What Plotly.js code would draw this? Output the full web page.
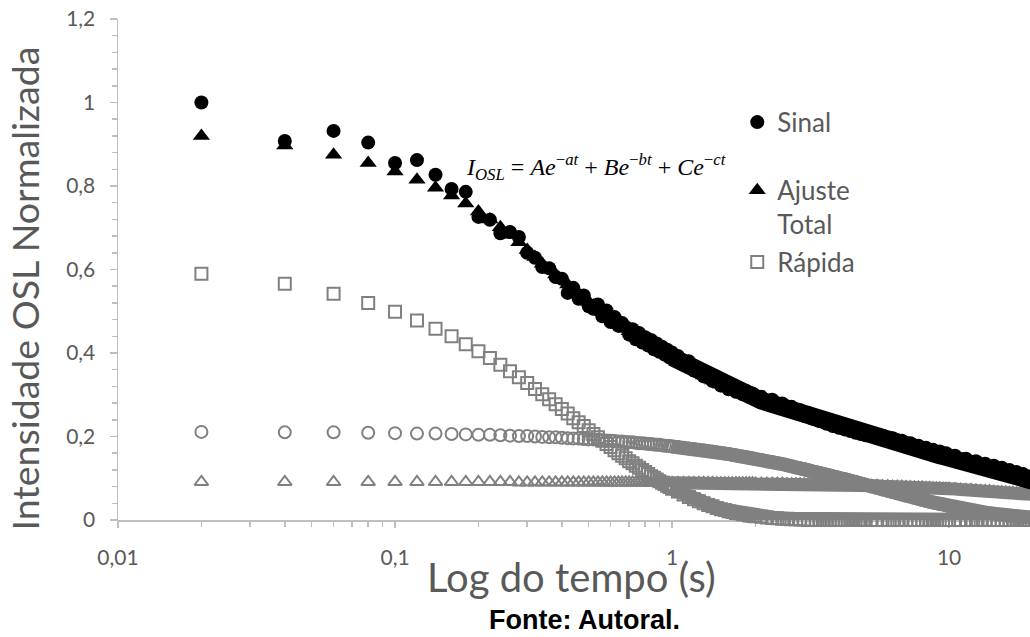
<!DOCTYPE html>
<html>
<head>
<meta charset="utf-8">
<script src="https://cdn.plot.ly/plotly-3.0.1.min.js"></script>
<style>html,body{margin:0;padding:0;background:#fff;}#chart{width:1030px;height:637px;}</style>
</head>
<body>
<div id="chart"></div>
<script>
// Tempo (s)
const tempo = [
0.02,0.04,0.06,0.08,0.10,0.12,0.14,0.16,0.18,0.20,0.22,0.24,0.26,0.28,0.30,0.32,0.34,0.36,0.38,0.40,
0.42,0.44,0.46,0.48,0.50,0.52,0.54,0.56,0.58,0.60,0.62,0.64,0.66,0.68,0.70,0.72,0.74,0.76,0.78,0.80,
0.82,0.84,0.86,0.88,0.90,0.92,0.94,0.96,0.98,1.00,
1.05,1.10,1.15,1.20,1.25,1.30,1.35,1.40,1.45,1.50,1.55,1.60,1.65,1.70,1.75,1.80,1.85,1.90,1.95,2.00,
2.1,2.2,2.3,2.4,2.5,2.6,2.7,2.8,2.9,3.0,3.1,3.2,3.3,3.4,3.5,3.6,3.7,3.8,3.9,4.0,
4.1,4.2,4.3,4.4,4.5,4.6,4.7,4.8,4.9,5.0,
5.25,5.5,5.75,6.0,6.25,6.5,6.75,7.0,7.25,7.5,7.75,8.0,8.25,8.5,8.75,9.0,9.25,9.5,9.75,10.0,
10.5,11,11.5,12,12.5,13,13.5,14,14.5,15,15.5,16,16.5,17,17.5,18,18.5,19,19.5,20
];
// Sinal OSL normalizado
const sinal = [
1.000,0.908,0.932,0.904,0.855,0.862,0.827,0.793,0.786,0.726,0.719,0.687,0.690,0.678,0.640,0.628,0.606,0.603,0.582,0.578,
0.544,0.556,0.530,0.538,0.512,0.506,0.516,0.488,0.502,0.474,0.486,0.465,0.472,0.462,0.444,0.457,0.433,0.448,0.425,0.438,
0.418,0.431,0.409,0.423,0.403,0.415,0.396,0.408,0.389,0.401,
0.393,0.372,0.380,0.358,0.362,0.344,0.352,0.333,0.340,0.322,0.330,0.313,0.322,0.307,0.315,0.301,0.309,0.295,0.303,0.290,
0.295,0.281,0.288,0.274,0.279,0.266,0.271,0.257,0.263,0.250,0.256,0.243,0.249,0.237,0.243,0.231,0.237,0.225,0.232,0.221,
0.227,0.217,0.223,0.213,0.219,0.209,0.215,0.206,0.212,0.203,
0.208,0.197,0.202,0.191,0.196,0.185,0.190,0.179,0.184,0.173,0.178,0.168,0.173,0.163,0.168,0.158,0.164,0.154,0.160,0.150,
0.154,0.142,0.147,0.136,0.141,0.130,0.135,0.124,0.130,0.119,0.125,0.114,0.120,0.109,0.115,0.104,0.110,0.099,0.104,0.095
];
// Ajuste total
const ajusteTotal = [
0.920,0.897,0.875,0.855,0.835,0.815,0.796,0.777,0.758,0.739,0.720,0.701,0.683,0.665,0.647,0.630,0.614,0.601,0.588,0.576,
0.564,0.553,0.542,0.532,0.523,0.514,0.506,0.498,0.490,0.483,0.476,0.470,0.464,0.458,0.452,0.446,0.441,0.436,0.431,0.427,
0.423,0.419,0.415,0.411,0.407,0.403,0.400,0.396,0.393,0.390,
0.383,0.375,0.368,0.360,0.352,0.346,0.340,0.334,0.329,0.324,0.319,0.315,0.311,0.308,0.305,0.302,0.299,0.296,0.293,0.290,
0.286,0.282,0.278,0.273,0.269,0.265,0.261,0.256,0.252,0.249,0.246,0.242,0.239,0.236,0.233,0.230,0.227,0.224,0.222,0.220,
0.218,0.216,0.214,0.212,0.210,0.208,0.206,0.205,0.203,0.202,
0.199,0.196,0.193,0.190,0.187,0.184,0.181,0.178,0.175,0.172,0.169,0.167,0.164,0.162,0.159,0.157,0.155,0.153,0.151,0.149,
0.145,0.141,0.138,0.135,0.132,0.129,0.126,0.123,0.121,0.118,0.116,0.113,0.111,0.108,0.106,0.103,0.101,0.098,0.096,0.094
];
// Componente rápida
const rapida = [
0.590,0.566,0.542,0.520,0.499,0.478,0.458,0.440,0.421,0.404,0.388,0.372,0.356,0.342,0.328,0.314,0.301,0.289,0.277,0.266,
0.255,0.244,0.234,0.225,0.215,0.206,0.198,0.190,0.182,0.175,0.167,0.160,0.154,0.148,0.141,0.136,0.130,0.125,0.120,0.115,
0.110,0.105,0.101,0.097,0.093,0.089,0.086,0.082,0.079,0.075,
0.068,0.061,0.055,0.050,0.045,0.040,0.036,0.033,0.029,0.026,0.024,0.021,0.019,0.017,0.016,0.014,0.013,0.011,0.010,0.009,
0.008,0.006,0.005,0.004,0.003,0.003,0.002,0.002,0.001,0.001,0,0,0,0,0,0,0,0,0,0,
0,0,0,0,0,0,0,0,0,0,
0,0,0,0,0,0,0,0,0,0,0,0,0,0,0,0,0,0,0,0,
0,0,0,0,0,0,0,0,0,0,0,0,0,0,0,0,0,0,0,0
];
// Componente média
const media = [
0.211,0.210,0.210,0.209,0.208,0.207,0.207,0.206,0.205,0.204,0.204,0.203,0.202,0.201,0.201,0.200,0.199,0.198,0.198,0.197,
0.196,0.195,0.195,0.194,0.193,0.193,0.192,0.191,0.190,0.190,0.189,0.188,0.188,0.187,0.186,0.186,0.185,0.184,0.184,0.183,
0.182,0.182,0.181,0.180,0.180,0.179,0.178,0.178,0.177,0.176,
0.175,0.173,0.171,0.170,0.168,0.167,0.165,0.164,0.162,0.161,0.159,0.158,0.156,0.155,0.153,0.152,0.151,0.149,0.148,0.146,
0.144,0.141,0.139,0.136,0.134,0.131,0.129,0.126,0.124,0.122,0.120,0.117,0.115,0.113,0.111,0.109,0.107,0.105,0.103,0.101,
0.099,0.098,0.096,0.094,0.092,0.091,0.089,0.087,0.086,0.084,
0.080,0.077,0.073,0.070,0.067,0.064,0.061,0.058,0.056,0.053,0.051,0.048,0.046,0.044,0.042,0.040,0.038,0.037,0.035,0.033,
0.030,0.028,0.025,0.023,0.021,0.019,0.017,0.016,0.015,0.013,0.012,0.011,0.010,0.009,0.008,0.008,0.007,0.006,0.006,0.005
];
// Componente lenta
const lenta = [
0.091,0.091,0.091,0.091,0.091,0.091,0.091,0.091,0.091,0.091,0.091,0.091,0.091,0.090,0.090,0.090,0.090,0.090,0.090,0.090,
0.090,0.090,0.090,0.090,0.090,0.090,0.090,0.090,0.090,0.090,0.090,0.090,0.090,0.090,0.090,0.090,0.090,0.090,0.090,0.090,
0.090,0.089,0.089,0.089,0.089,0.089,0.089,0.089,0.089,0.089,
0.089,0.089,0.089,0.089,0.089,0.089,0.089,0.089,0.088,0.088,0.088,0.088,0.088,0.088,0.088,0.088,0.088,0.088,0.088,0.087,
0.087,0.087,0.087,0.087,0.087,0.086,0.086,0.086,0.086,0.086,0.086,0.085,0.085,0.085,0.085,0.085,0.085,0.084,0.084,0.084,
0.084,0.084,0.084,0.083,0.083,0.083,0.083,0.083,0.083,0.082,
0.082,0.082,0.081,0.081,0.080,0.080,0.080,0.079,0.079,0.078,0.078,0.078,0.077,0.077,0.076,0.076,0.076,0.075,0.075,0.075,
0.074,0.073,0.072,0.072,0.071,0.070,0.069,0.069,0.068,0.067,0.067,0.066,0.065,0.065,0.064,0.063,0.063,0.062,0.062,0.061
];

const xTickVals = [0.01, 0.1, 1, 10];
const xTickText = ['0,01', '0,1', '1', '10'];
const xMinorVals = [0.02,0.03,0.04,0.05,0.06,0.07,0.08,0.09,0.2,0.3,0.4,0.5,0.6,0.7,0.8,0.9,2,3,4,5,6,7,8,9,20];
const yTickVals = [0, 0.2, 0.4, 0.6, 0.8, 1.0, 1.2];
const yTickText = ['0', '0,2', '0,4', '0,6', '0,8', '1', '1,2'];

const GRAY = '#808080';
const AXIS = '#bfbfbf';
const TEXT = '#595959';

// where the marker clouds become a continuous band (t >= 1 s)
const bandStart = tempo.indexOf(1.00);
const tail = arr => arr.slice(bandStart);

function bandTrace(y, color, width) {
  return {x: tail(tempo), y: tail(y), type: 'scatter', mode: 'lines', showlegend: false,
          hoverinfo: 'skip', cliponaxis: false, line: {color: color, width: width}};
}

const traces = [
  bandTrace(media, GRAY, 14),
  bandTrace(lenta, GRAY, 13),
  bandTrace(rapida, GRAY, 14),
  {x: tempo, y: rapida, type: 'scatter', mode: 'markers', name: 'Rápida', legend: 'legend3',
   cliponaxis: false, marker: {symbol: 'square-open', size: 12, color: GRAY, line: {width: 2, color: GRAY}}},
  {x: tempo, y: media, type: 'scatter', mode: 'markers', name: 'Média', showlegend: false,
   cliponaxis: false, marker: {symbol: 'circle-open', size: 12, color: GRAY, line: {width: 2, color: GRAY}}},
  {x: tempo, y: lenta, type: 'scatter', mode: 'markers', name: 'Lenta', showlegend: false,
   cliponaxis: false, marker: {symbol: 'triangle-up-open', size: 12, color: GRAY, line: {width: 2, color: GRAY}}},
  bandTrace(ajusteTotal, '#000000', 18),
  {x: tempo, y: sinal, type: 'scatter', mode: 'markers', name: 'Sinal', legend: 'legend',
   cliponaxis: false, marker: {symbol: 'circle', size: 14, color: '#000000'}},
  {x: tempo, y: ajusteTotal, type: 'scatter', mode: 'markers', name: 'Ajuste<br>Total', legend: 'legend2',
   cliponaxis: false, marker: {symbol: 'triangle-up', size: 15, color: '#000000'}}
];

const legendBase = {
  xref: 'paper', yref: 'paper', xanchor: 'left', yanchor: 'middle',
  font: {family: 'Lato, sans-serif', size: 26, color: TEXT},
  bgcolor: 'rgba(0,0,0,0)', borderwidth: 0, valign: 'top'
};

const layout = {
  width: 1030, height: 637,
  margin: {l: 118, r: 0, t: 19, b: 117, pad: 0},
  paper_bgcolor: '#ffffff', plot_bgcolor: '#ffffff',
  font: {family: 'Lato, sans-serif', color: TEXT},
  showlegend: true,
  xaxis: {
    type: 'log', range: [-2, 1.292],
    tickmode: 'array', tickvals: xTickVals, ticktext: xTickText,
    ticks: 'outside', ticklen: 6, tickwidth: 1.5, tickcolor: AXIS,
    showline: true, linecolor: AXIS, linewidth: 1.5,
    showgrid: false, zeroline: false, layer: 'below traces',
    tickfont: {family: 'Lato, sans-serif', size: 21, color: TEXT},
    ticklabelstandoff: 12,
    minor: {tickmode: 'array', tickvals: xMinorVals, ticks: 'outside', ticklen: 5, tickwidth: 1.5, tickcolor: AXIS, showgrid: false}
  },
  yaxis: {
    range: [0, 1.2],
    tickmode: 'array', tickvals: yTickVals, ticktext: yTickText,
    ticks: 'outside', ticklen: 7, tickwidth: 1.5, tickcolor: AXIS,
    showline: true, linecolor: AXIS, linewidth: 1.5,
    showgrid: false, zeroline: false, layer: 'below traces',
    tickfont: {family: 'Lato, sans-serif', size: 21, color: TEXT},
    ticklabelstandoff: 10,
    minor: {tickmode: 'linear', tick0: 0, dtick: 0.04, ticks: 'outside', ticklen: 5, tickwidth: 1.5, tickcolor: AXIS, showgrid: false}
  },
  legend: Object.assign({}, legendBase, {x: 0.679, y: 0.794}),
  legend2: Object.assign({}, legendBase, {x: 0.679, y: 0.624}),
  legend3: Object.assign({}, legendBase, {x: 0.679, y: 0.515}),
  annotations: [
    {xref: 'paper', yref: 'paper', x: 0.4978, y: -0.1138, xanchor: 'center', yanchor: 'middle', showarrow: false,
     text: 'Log do tempo (s)',
     font: {family: 'Lato, sans-serif', size: 40, color: TEXT}},
    {xref: 'paper', yref: 'paper', x: -0.102, y: 0.462, xanchor: 'center', yanchor: 'middle', showarrow: false,
     textangle: -90, text: 'Intensidade OSL Normalizada',
     font: {family: 'Lato, sans-serif', size: 37.5, color: TEXT}},
    {xref: 'paper', yref: 'paper', x: 0.5241, y: 0.705, xanchor: 'center', yanchor: 'middle', showarrow: false,
     text: '<i>I</i><sub><i>OSL</i></sub> = <i>Ae</i><sup>−<i>at</i></sup> + <i>Be</i><sup>−<i>bt</i></sup> + <i>Ce</i><sup>−<i>ct</i></sup>',
     font: {family: 'Liberation Serif, DejaVu Serif, serif', size: 24, color: '#000000'}},
    {xref: 'paper', yref: 'paper', x: 0.511, y: -0.1996, xanchor: 'center', yanchor: 'middle', showarrow: false,
     text: '<b>Fonte: Autoral.</b>',
     font: {family: 'Liberation Sans, Arial, sans-serif', size: 27, color: '#000000'}}
  ]
};

Plotly.newPlot('chart', traces, layout, {displayModeBar: false, staticPlot: true});
</script>
</body>
</html>
